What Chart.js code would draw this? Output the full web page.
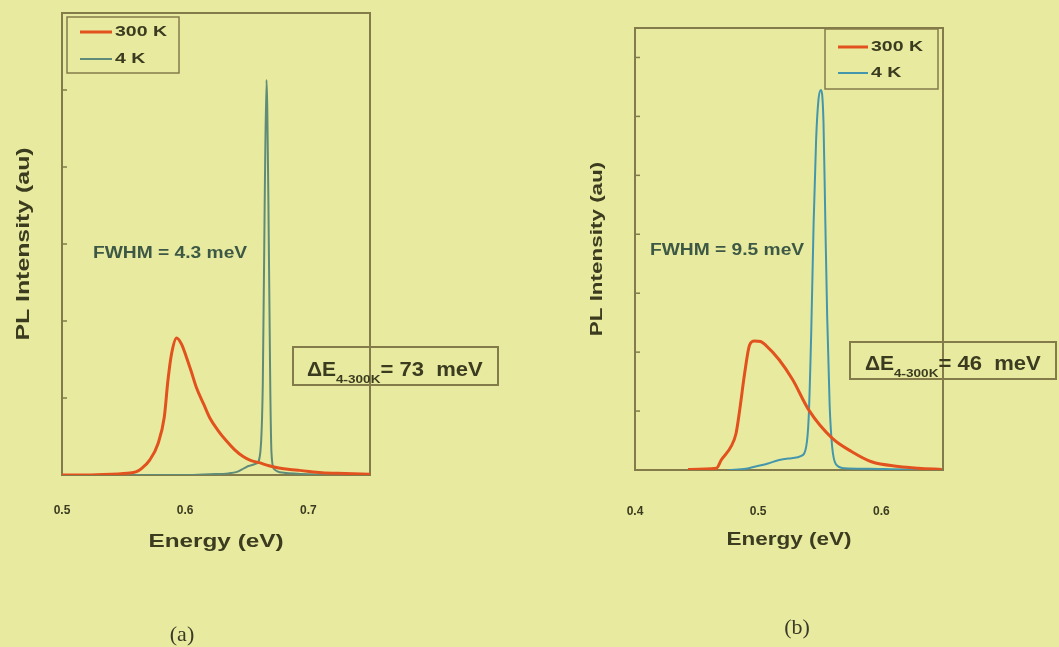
<!DOCTYPE html>
<html>
<head>
<meta charset="utf-8">
<title>PL spectra 300 K / 4 K</title>
<script src="https://cdn.jsdelivr.net/npm/chart.js@4.4.0/dist/chart.umd.min.js"></script>
<style>
  html, body { margin: 0; padding: 0; background: #e8eb9f; }
  body { width: 1059px; height: 647px; position: relative; overflow: hidden; }
  .panel { position: absolute; top: 0; height: 647px; }
  #panelA { left: 0; width: 529px; }
  #panelB { left: 529px; width: 530px; }
</style>
</head>
<body>
<div class="panel" id="panelA"><canvas id="chartA"></canvas></div>
<div class="panel" id="panelB"><canvas id="chartB"></canvas></div>
<script>
// panel (a)
const energyA300 = [0.50, 0.52, 0.54, 0.55, 0.56, 0.565, 0.571, 0.578, 0.583, 0.586, 0.589, 0.593, 0.597, 0.601, 0.605, 0.609, 0.615, 0.620, 0.627, 0.633, 0.640, 0.647, 0.653, 0.660, 0.668, 0.676, 0.685, 0.693, 0.711, 0.73, 0.75];
const intensityA300 = [0.00, 0.00, 0.01, 0.02, 0.04, 0.09, 0.19, 0.41, 0.75, 1.23, 1.58, 1.78, 1.70, 1.53, 1.34, 1.14, 0.92, 0.74, 0.57, 0.45, 0.33, 0.24, 0.19, 0.16, 0.12, 0.09, 0.07, 0.06, 0.03, 0.02, 0.01];
const energyA4 = [0.50, 0.60, 0.62, 0.635, 0.642, 0.648, 0.652, 0.658, 0.661, 0.663, 0.6645, 0.666, 0.6675, 0.669, 0.670, 0.672, 0.68, 0.70, 0.75];
const intensityA4 = [0.00, 0.00, 0.01, 0.02, 0.04, 0.09, 0.12, 0.15, 0.30, 1.20, 3.50, 5.13, 3.60, 1.20, 0.30, 0.08, 0.03, 0.01, 0.00];
const ticksA = [0.5, 0.6, 0.7];

// panel (b)
const energyB300 = [0.443, 0.466, 0.470, 0.478, 0.482, 0.485, 0.489, 0.493, 0.497, 0.502, 0.506, 0.517, 0.528, 0.541, 0.560, 0.576, 0.592, 0.614, 0.630, 0.649];
const intensityB300 = [0.01, 0.03, 0.17, 0.40, 0.62, 1.02, 1.64, 2.12, 2.19, 2.18, 2.12, 1.87, 1.53, 1.02, 0.54, 0.31, 0.14, 0.06, 0.03, 0.01];
const energyB4 = [0.476, 0.49, 0.498, 0.508, 0.517, 0.527, 0.535, 0.539, 0.541, 0.543, 0.545, 0.547, 0.549, 0.551, 0.553, 0.5545, 0.556, 0.558, 0.560, 0.563, 0.57, 0.59, 0.62, 0.649];
const intensityB4 = [0.00, 0.02, 0.06, 0.11, 0.17, 0.20, 0.24, 0.40, 0.90, 2.30, 4.20, 5.60, 6.30, 6.45, 5.90, 4.20, 2.60, 1.10, 0.40, 0.10, 0.03, 0.02, 0.01, 0.01];
const ticksB = [0.4, 0.5, 0.6];

const seriesNames = ['300 K', '4 K'];
const xTitle = 'Energy (eV)';
const yTitle = 'PL Intensity (au)';

const FONT = '"Liberation Sans", Arial, sans-serif';
const INK = '#3b3b20';
const FRAME = '#847b4b';

function toPoints(xs, ys) {
    return xs.map((x, i) => ({ x: x, y: ys[i] }));
}

// the scanned figure uses a wide bold face, so text is stretched sideways
function wide(ctx, text, x, y, sx) {
    ctx.save();
    ctx.translate(x, y);
    ctx.scale(sx, 1);
    ctx.fillText(text, 0, 0);
    const w = ctx.measureText(text).width * sx;
    ctx.restore();
    return w;
}

// frame, inner y ticks, axis titles, legend box and the notes
const decor = {
    id: 'decor',
    beforeDatasetsDraw(chart, args, o) {
        const ctx = chart.ctx;
        const a = chart.chartArea;
        const ys = chart.scales.y;
        ctx.save();
        ctx.strokeStyle = FRAME;
        ctx.lineWidth = 2;
        ctx.strokeRect(a.left, a.top, a.right - a.left, a.bottom - a.top);
        ctx.lineWidth = 1.5;
        ys.ticks.forEach(t => {
            if (t.value <= ys.min || t.value >= ys.max) return;
            const py = ys.getPixelForValue(t.value);
            ctx.beginPath();
            ctx.moveTo(a.left, py);
            ctx.lineTo(a.left + 5, py);
            ctx.stroke();
        });
        ctx.restore();
    },
    afterDraw(chart, args, o) {
        const ctx = chart.ctx;
        const a = chart.chartArea;
        ctx.save();
        ctx.fillStyle = INK;

        // axis titles
        ctx.textAlign = 'center';
        ctx.textBaseline = 'middle';
        ctx.font = 'bold ' + o.xTitleSize + 'px ' + FONT;
        wide(ctx, xTitle, (a.left + a.right) / 2, a.bottom + o.xTitleGap, o.xTitleStretch);
        ctx.save();
        ctx.translate(a.left - 38, (a.top + a.bottom) / 2);
        ctx.rotate(-Math.PI / 2);
        ctx.font = 'bold ' + o.yTitleSize + 'px ' + FONT;
        wide(ctx, yTitle, 0, 0, o.yTitleStretch);
        ctx.restore();

        // legend
        const L = o.legend;
        ctx.strokeStyle = FRAME;
        ctx.lineWidth = 1.5;
        ctx.strokeRect(L.x, L.y, L.w, L.h);
        ctx.textAlign = 'left';
        ctx.font = 'bold 15px ' + FONT;
        chart.data.datasets.forEach((ds, i) => {
            const ry = L.y + L.row0 + i * L.rowGap;
            ctx.strokeStyle = ds.borderColor;
            ctx.lineWidth = ds.borderWidth;
            ctx.beginPath();
            ctx.moveTo(L.x + L.lineX, ry);
            ctx.lineTo(L.x + L.lineX + L.lineW, ry);
            ctx.stroke();
            ctx.fillStyle = INK;
            wide(ctx, ds.label, L.x + L.lineX + L.lineW + 3, ry, 1.3);
        });

        // FWHM note
        ctx.fillStyle = '#3d5845';
        ctx.font = 'bold 16px ' + FONT;
        wide(ctx, o.fwhm.text, o.fwhm.x, o.fwhm.y, 1.2);

        // delta E box
        const D = o.delta;
        ctx.strokeStyle = FRAME;
        ctx.lineWidth = 2;
        ctx.strokeRect(D.x, D.y, D.w, D.h);
        ctx.fillStyle = INK;
        ctx.textBaseline = 'alphabetic';
        let tx = D.tx;
        ctx.font = 'bold 21px ' + FONT;
        tx += wide(ctx, '\u0394E', tx, D.base, 1);
        ctx.font = 'bold 10px ' + FONT;
        tx += wide(ctx, '4-300K', tx, D.base + 7, 1.35);
        ctx.font = 'bold 21px ' + FONT;
        wide(ctx, D.text, tx, D.base, 1.05);

        // panel label
        ctx.textAlign = 'center';
        ctx.font = '22px "Liberation Serif", "Times New Roman", serif';
        ctx.fillStyle = '#3a3a28';
        ctx.fillText(o.panel.text, o.panel.x, o.panel.y);
        ctx.restore();
    }
};

function makeChart(id, cfg) {
    const ctx = document.getElementById(id).getContext('2d');
    return new Chart(ctx, {
        type: 'line',
        data: {
            datasets: [{
                label: seriesNames[0],
                data: toPoints(cfg.e300, cfg.i300),
                borderColor: '#e1521f',
                borderWidth: 3,
                pointRadius: 0,
                cubicInterpolationMode: 'monotone'
            }, {
                label: seriesNames[1],
                data: toPoints(cfg.e4, cfg.i4),
                borderColor: cfg.color4,
                borderWidth: 2,
                pointRadius: 0,
                cubicInterpolationMode: 'monotone'
            }]
        },
        options: {
            responsive: true,
            maintainAspectRatio: false,
            animation: false,
            layout: { padding: cfg.padding },
            scales: {
                x: {
                    type: 'linear',
                    min: cfg.xMin,
                    max: cfg.xMax,
                    grid: { display: false },
                    border: { display: false },
                    afterBuildTicks: s => { s.ticks = cfg.ticks.map(v => ({ value: v })); },
                    afterFit: s => { s.height = cfg.xHeight; },
                    ticks: {
                        padding: cfg.tickPad,
                        color: INK,
                        font: { family: FONT, size: 12, weight: 'bold' },
                        callback: v => v.toFixed(1)
                    }
                },
                y: {
                    min: 0,
                    max: cfg.yMax,
                    grid: { display: false },
                    border: { display: false },
                    ticks: { display: false, stepSize: 1 },
                    afterFit: s => { s.width = cfg.yWidth; }
                }
            },
            plugins: {
                legend: { display: false },
                tooltip: { enabled: false },
                decor: cfg.decor
            }
        },
        plugins: [decor]
    });
}

document.addEventListener('DOMContentLoaded', function () {
    makeChart('chartA', {
        e300: energyA300, i300: intensityA300, e4: energyA4, i4: intensityA4,
        color4: '#5f8c78',
        xMin: 0.5, xMax: 0.75, ticks: ticksA, yMax: 6,
        padding: { left: 0, top: 13, right: 159, bottom: 0 },
        yWidth: 62, xHeight: 172, tickPad: 20,
        decor: {
            xTitleSize: 19, xTitleStretch: 1.28, xTitleGap: 67,
            yTitleSize: 18, yTitleStretch: 1.38,
            legend: { x: 67, y: 17, w: 112, h: 56, row0: 15, rowGap: 27, lineX: 13, lineW: 32 },
            fwhm: { text: 'FWHM = 4.3 meV', x: 93, y: 254 },
            delta: { x: 293, y: 347, w: 205, h: 38, tx: 307, base: 376, text: '= 73  meV' },
            panel: { text: '(a)', x: 182, y: 641 }
        }
    });

    makeChart('chartB', {
        e300: energyB300, i300: intensityB300, e4: energyB4, i4: intensityB4,
        color4: '#4496ad',
        xMin: 0.4, xMax: 0.65, ticks: ticksB, yMax: 7.5,
        padding: { left: 0, top: 28, right: 116, bottom: 0 },
        yWidth: 106, xHeight: 177, tickPad: 26,
        decor: {
            xTitleSize: 18, xTitleStretch: 1.25, xTitleGap: 70,
            yTitleSize: 17, yTitleStretch: 1.32,
            legend: { x: 296, y: 29, w: 113, h: 60, row0: 18, rowGap: 26, lineX: 13, lineW: 30 },
            fwhm: { text: 'FWHM = 9.5 meV', x: 121, y: 251 },
            delta: { x: 321, y: 342, w: 206, h: 37, tx: 336, base: 370, text: '= 46  meV' },
            panel: { text: '(b)', x: 268, y: 634 }
        }
    });
});
</script>
</body>
</html>
